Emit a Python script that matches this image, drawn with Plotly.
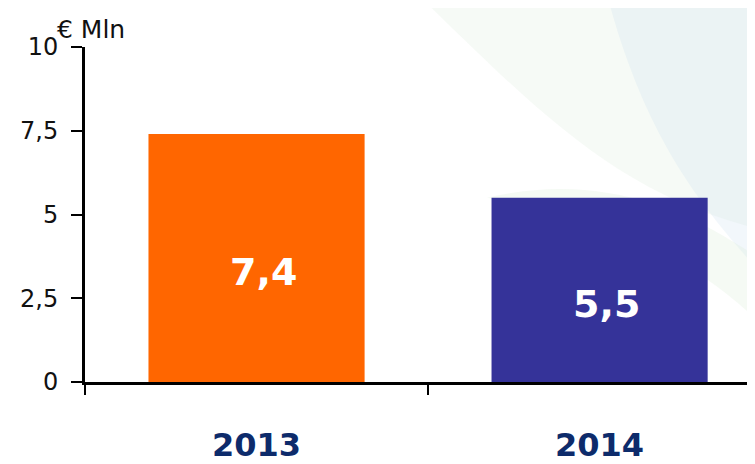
import plotly.graph_objects as go

years = ["2013", "2014"]
values = [7.4, 5.5]
value_labels = ["7,4", "5,5"]
bar_colors = ["#FF6600", "#353399"]
y_tickvals = [0, 2.5, 5, 7.5, 10]
y_ticktext = ["0", "2,5", "5", "7,5", "10"]

fig = go.Figure()

# faint decorative background on the right
for path, col in [
    ("M 0.50 1.15 C 0.68 0.80, 0.80 0.55, 1.02 0.45 L 1.02 1.15 Z", "rgba(205,228,205,0.18)"),
    ("M 0.78 1.15 C 0.84 0.70, 0.93 0.50, 1.02 0.30 L 1.02 1.15 Z", "rgba(195,220,238,0.22)"),
    ("M 0.60 0.55 C 0.75 0.50, 0.90 0.40, 1.02 0.15 L 1.02 0.35 C 0.88 0.55, 0.75 0.62, 0.60 0.55 Z", "rgba(215,235,210,0.25)"),
]:
    fig.add_shape(type="path", path=path, xref="paper", yref="paper",
                  fillcolor=col, line=dict(width=0), layer="below")

fig.add_trace(go.Bar(
    x=years, y=values, width=0.63,
    marker=dict(color=bar_colors, line=dict(width=0)),
    showlegend=False, hoverinfo="skip",
))

# value labels inside the bars, sitting a little below the middle
# (category axis: position by index, a "2013" string would be read as index 2013)
for i, (v, lab) in enumerate(zip(values, value_labels)):
    fig.add_annotation(x=i, y=v / 2, text=lab, showarrow=False, xshift=7, yshift=-14,
                       font=dict(family="DejaVu Sans", size=38, color="white", weight="bold"))

fig.add_annotation(text="€ Mln", xref="paper", yref="paper", x=-0.045, y=1.0,
                   xanchor="left", yanchor="bottom", showarrow=False, yshift=1,
                   font=dict(family="DejaVu Sans", size=25, color="#111"))

fig.update_xaxes(
    type="category", range=[-0.5, 1.453],
    showline=True, linecolor="black", linewidth=3,
    ticks="outside", tickson="boundaries", ticklen=10, tickwidth=2, tickcolor="black",
    tickfont=dict(family="DejaVu Sans", size=32, color="#0D2B6B", weight="bold"),
    ticklabelstandoff=33, showgrid=False, zeroline=False,
)
fig.update_yaxes(
    range=[0, 10], tickvals=y_tickvals, ticktext=y_ticktext,
    showline=True, linecolor="black", linewidth=3,
    ticks="outside", ticklen=11, tickwidth=2, tickcolor="black",
    tickfont=dict(family="DejaVu Sans", size=24, color="#111"),
    ticklabelstandoff=8, showgrid=False, zeroline=False,
)

fig.update_layout(
    width=747, height=456,
    margin=dict(l=77, r=0, t=39, b=80),
    paper_bgcolor="white", plot_bgcolor="rgba(0,0,0,0)",
)

fig.write_html("out.html")
